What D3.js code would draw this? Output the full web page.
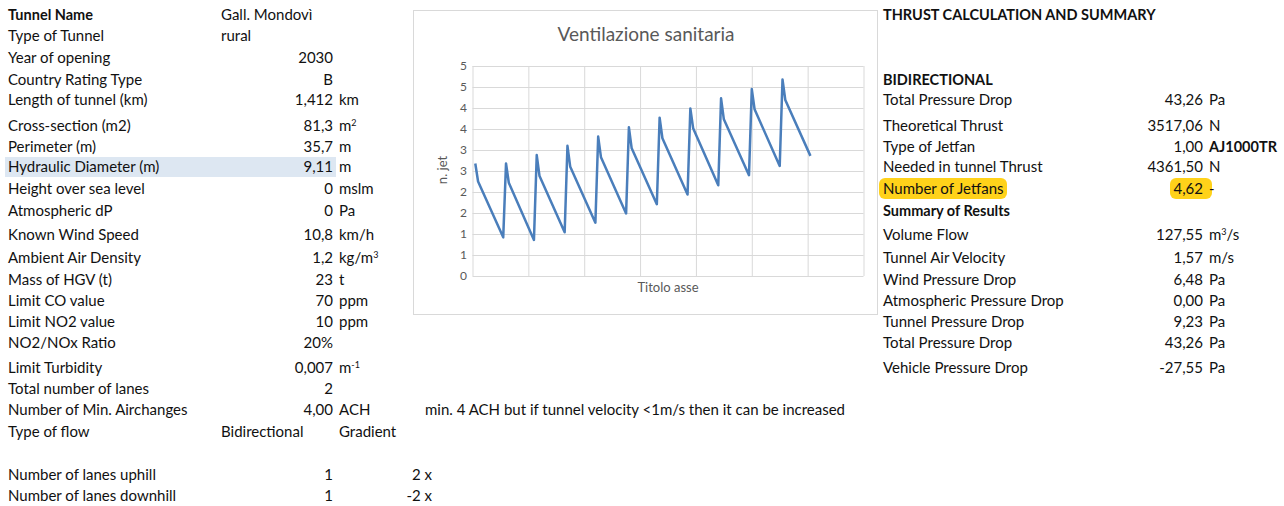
<!DOCTYPE html>
<html lang="en">
<head>
<meta charset="UTF-8" />
<title>Ventilazione sanitaria</title>
<script src="https://d3js.org/d3.v7.min.js"></script>
<style>
  body { margin: 0; background: #fff; }
  svg { display: block; }
  text { font-family: Lato, "Open Sans", sans-serif; font-size: 15px; fill: #111; }
  .bold { font-weight: bold; font-size: 14.5px; }
  .grid line { stroke: #d9d9d9; stroke-width: 1; }
  .grid path { display: none; }
  .ytick text { fill: #595959; font-size: 12px; }
  .ytick line, .ytick path { display: none; }
</style>
</head>
<body>
<svg width="1284" height="506"></svg>
<script>
// chart series: x = category index, y = number of jetfans
const jetIdx = [1, 2, 11, 12, 13, 22, 23, 24, 33, 34, 35, 44, 45, 46, 55, 56, 57,
  66, 67, 68, 77, 78, 79, 88, 89, 90, 99, 100, 101, 110, 111, 112, 121];
const jetVal = [2.68, 2.25, 0.92, 2.68, 2.22, 0.86, 2.88, 2.38, 1.04, 3.10, 2.60, 1.27,
  3.32, 2.83, 1.49, 3.54, 3.04, 1.71, 3.77, 3.28, 1.94, 3.99, 3.52, 2.16,
  4.23, 3.73, 2.40, 4.45, 3.97, 2.62, 4.68, 4.19, 2.86];
const yTicks = [0, 0.5, 1, 1.5, 2, 2.5, 3, 3.5, 4, 4.5, 5];
const xGrid = [0, 20, 40, 60, 80, 100, 120, 140];
const chartTitle = 'Ventilazione sanitaria';
const yTitle = 'n. jet';
const xTitle = 'Titolo asse';

// sheet cells ("|" marks a superscript part)
const leftLabels = ['Tunnel Name', 'Type of Tunnel', 'Year of opening', 'Country Rating Type',
  'Length of tunnel (km)', 'Cross-section (m2)', 'Perimeter (m)', 'Hydraulic Diameter (m)',
  'Height over sea level', 'Atmospheric dP', 'Known Wind Speed', 'Ambient Air Density',
  'Mass of HGV (t)', 'Limit CO value', 'Limit NO2 value', 'NO2/NOx Ratio', 'Limit Turbidity',
  'Total number of lanes', 'Number of Min. Airchanges', 'Type of flow', '',
  'Number of lanes uphill', 'Number of lanes downhill'];
const leftValues = ['Gall. Mondovì', 'rural', '2030', 'B', '1,412', '81,3', '35,7', '9,11',
  '0', '0', '10,8', '1,2', '23', '70', '10', '20%', '0,007', '2', '4,00', 'Bidirectional', '',
  '1', '1'];
const leftUnits = ['', '', '', '', 'km', 'm|2', 'm', 'm', 'mslm', 'Pa', 'km/h', 'kg/m|3', 't',
  'ppm', 'ppm', '', 'm|-1', '', 'ACH', 'Gradient', '', '', ''];
const leftExtra = ['', '', '', '', '', '', '', '', '', '', '', '', '', '', '', '', '', '', '', '', '',
  '2 x', '-2 x'];
const airNote = 'min. 4 ACH but if tunnel velocity <1m/s then it can be increased';

const rightRows = [0, 3, 4, 5, 6, 7, 8, 9, 10, 11, 12, 13, 14, 15, 16];
const rightLabels = ['THRUST CALCULATION AND SUMMARY', 'BIDIRECTIONAL', 'Total Pressure Drop',
  'Theoretical Thrust', 'Type of Jetfan', 'Needed in tunnel Thrust', 'Number of Jetfans',
  'Summary of Results', 'Volume Flow', 'Tunnel Air Velocity', 'Wind Pressure Drop',
  'Atmospheric Pressure Drop', 'Tunnel Pressure Drop', 'Total Pressure Drop', 'Vehicle Pressure Drop'];
const rightValues = ['', '', '43,26', '3517,06', '1,00', '4361,50', '4,62', '', '127,55', '1,57',
  '6,48', '0,00', '9,23', '43,26', '-27,55'];
const rightUnits = ['', '', 'Pa', 'N', 'AJ1000TR', 'N', '-', '', 'm|3|/s', 'm/s', 'Pa', 'Pa', 'Pa',
  'Pa', 'Pa'];

// sheet layout
const rowY = [15, 36, 58, 80, 100, 126, 147, 167, 189, 211, 235, 258, 280, 301, 322, 343, 368,
  389, 410, 432, 453, 475, 496];
const svg = d3.select('svg');

function putText(g, x, y, str, anchor, cls) {
  const t = g.append('text')
    .attr('x', x)
    .attr('y', y + 5)
    .attr('text-anchor', anchor);
  if (cls) t.attr('class', cls);
  str.split('|').forEach((part, i) => {
    const s = t.append('tspan').text(part);
    if (i % 2 === 1) s.attr('dy', -5).attr('font-size', 9);
    else if (i > 0) s.attr('dy', 5);
  });
  return t;
}

// highlighted cell
svg.append('rect')
  .attr('x', 5).attr('y', 157).attr('width', 331).attr('height', 20)
  .attr('fill', '#dde7f2');

// yellow marker on the jetfan result
svg.append('rect')
  .attr('x', 879).attr('y', 178).attr('width', 128).attr('height', 21)
  .attr('rx', 6).attr('fill', '#ffd21a');
svg.append('rect')
  .attr('x', 1170).attr('y', 178).attr('width', 42).attr('height', 21)
  .attr('rx', 6).attr('fill', '#ffd21a');

const left = svg.append('g');
leftLabels.forEach((lab, i) => {
  const y = rowY[i];
  putText(left, 8, y, lab, 'start', i === 0 ? 'bold' : null);
  const v = leftValues[i];
  if (v) {
    const isText = [0, 1, 19].includes(i);
    putText(left, isText ? 221 : 333, y, v, isText ? 'start' : 'end');
  }
  if (leftUnits[i]) putText(left, 339, y, leftUnits[i], 'start');
  if (leftExtra[i]) putText(left, 432, y, leftExtra[i], 'end');
});
putText(left, 425, rowY[18], airNote, 'start');

const right = svg.append('g');
rightLabels.forEach((lab, i) => {
  const y = rowY[rightRows[i]];
  const head = [0, 1, 7].includes(i);
  putText(right, 883, y, lab, 'start', head ? 'bold' : null);
  if (rightValues[i]) putText(right, 1203, y, rightValues[i], 'end');
  if (rightUnits[i]) putText(right, 1209, y, rightUnits[i], 'start', rightUnits[i] === 'AJ1000TR' ? 'bold' : null);
});

// chart box
svg.append('rect')
  .attr('x', 413.5).attr('y', 10.5).attr('width', 464).attr('height', 304)
  .attr('fill', '#fff').attr('stroke', '#d9d9d9');

const x = d3.scaleLinear().domain([0, 140]).range([472.5, 863.5]);
const y = d3.scaleLinear().domain([0, 5]).range([276, 66]);

svg.append('g')
  .attr('class', 'grid')
  .attr('transform', 'translate(472.5,0)')
  .call(d3.axisLeft(y).tickValues(yTicks).tickSize(-391).tickFormat(''));
svg.append('g')
  .attr('class', 'grid')
  .attr('transform', 'translate(0,276)')
  .call(d3.axisBottom(x).tickValues(xGrid).tickSize(-210).tickFormat(''));

svg.append('g')
  .attr('class', 'ytick')
  .attr('transform', 'translate(467,0)')
  .call(d3.axisLeft(y).tickValues(yTicks).tickSize(0).tickPadding(0)
    .tickFormat(d => Math.round(d)));

const pts = jetIdx.map((d, i) => [d, jetVal[i]]);
svg.append('path')
  .datum(pts)
  .attr('fill', 'none')
  .attr('stroke', '#4a7ebb')
  .attr('stroke-width', 2.5)
  .attr('stroke-linejoin', 'round')
  .attr('d', d3.line().x(d => x(d[0])).y(d => y(d[1])));

svg.append('text')
  .attr('x', 646).attr('y', 41)
  .attr('text-anchor', 'middle')
  .style('font-size', '19px').style('fill', '#595959')
  .text(chartTitle);
svg.append('text')
  .attr('transform', 'translate(447,170) rotate(-90)')
  .attr('text-anchor', 'middle')
  .style('font-size', '13px').style('fill', '#595959')
  .text(yTitle);
svg.append('text')
  .attr('x', 668).attr('y', 292)
  .attr('text-anchor', 'middle')
  .style('font-size', '13px').style('fill', '#595959')
  .text(xTitle);
</script>
</body>
</html>
